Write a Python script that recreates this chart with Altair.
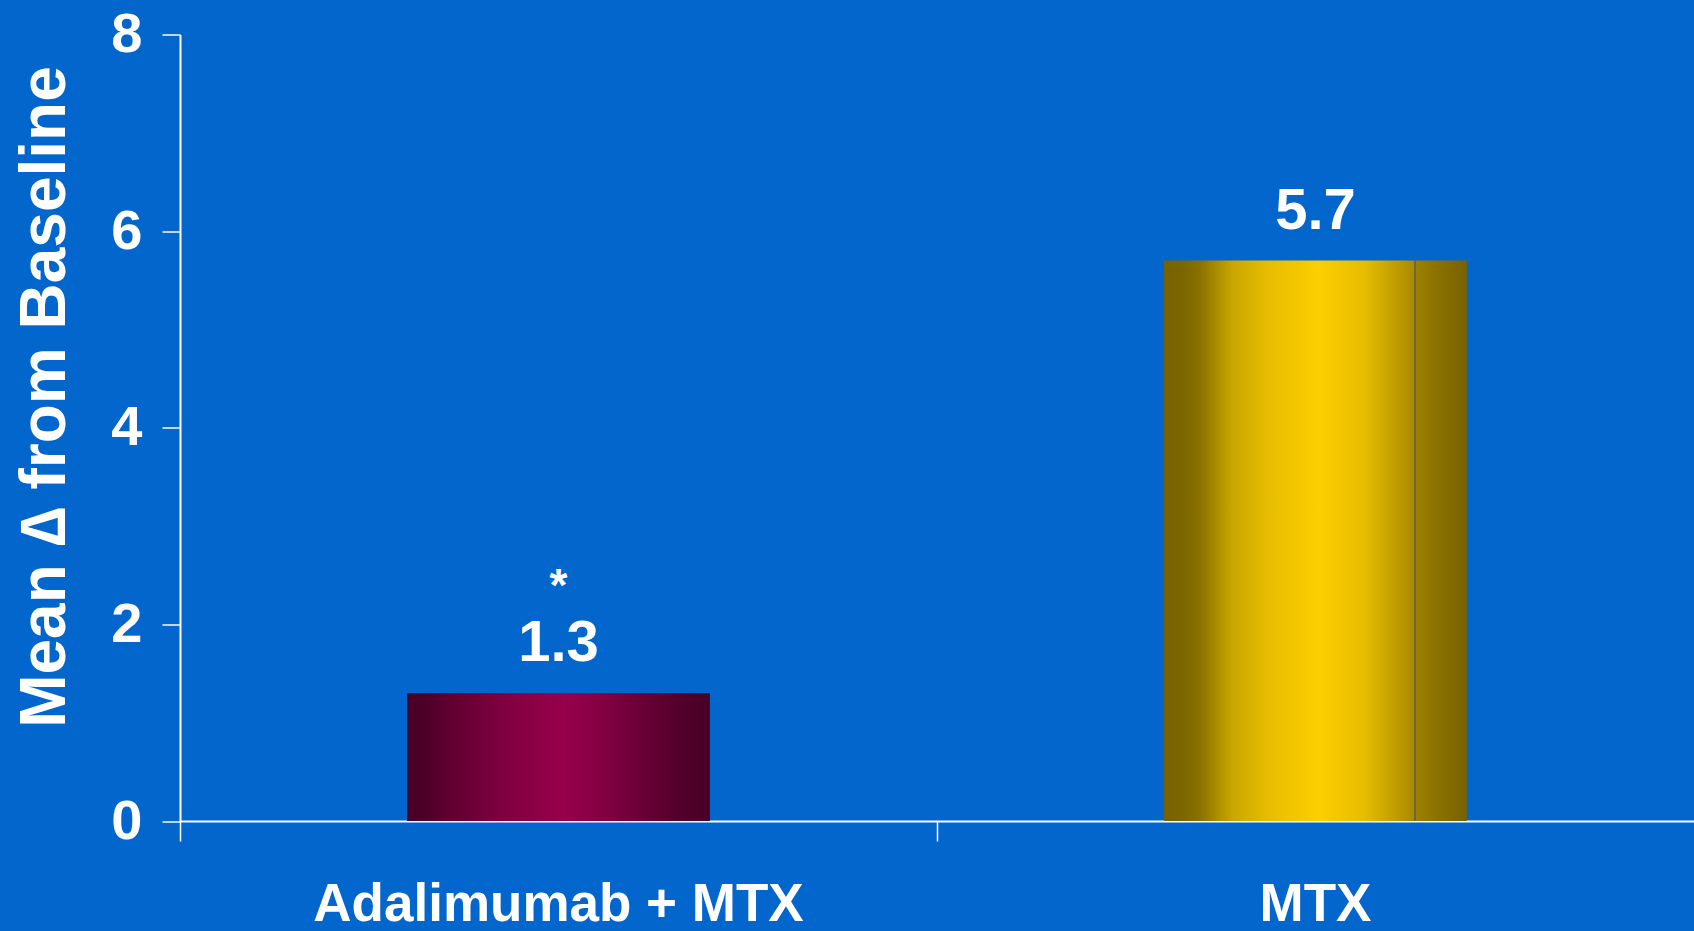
import altair as alt
import pandas as pd

categories = ["Adalimumab + MTX", "MTX"]
values = [1.3, 5.7]
value_labels = ["1.3", "5.7"]
notes = ["*", ""]
y_ticks = [0, 2, 4, 6, 8]

df = pd.DataFrame({"group": categories, "value": values, "label": value_labels, "note": notes})

BG = "#0366CC"
FONT = "Liberation Sans"

maroon = alt.LinearGradient(
    gradient="linear", x1=0, x2=1, y1=0, y2=0,
    stops=[
        alt.GradientStop(offset=0.0, color="#4a0026"),
        alt.GradientStop(offset=0.05, color="#4b0027"),
        alt.GradientStop(offset=0.13, color="#5e0030"),
        alt.GradientStop(offset=0.24, color="#720039"),
        alt.GradientStop(offset=0.35, color="#840042"),
        alt.GradientStop(offset=0.52, color="#97004c"),
        alt.GradientStop(offset=0.68, color="#7d0040"),
        alt.GradientStop(offset=0.79, color="#670035"),
        alt.GradientStop(offset=0.90, color="#54002c"),
        alt.GradientStop(offset=1.0, color="#480025"),
    ],
)

gold = alt.LinearGradient(
    gradient="linear", x1=0, x2=1, y1=0, y2=0,
    stops=[
        alt.GradientStop(offset=0.0, color="#786200"),
        alt.GradientStop(offset=0.06, color="#7c6600"),
        alt.GradientStop(offset=0.115, color="#897000"),
        alt.GradientStop(offset=0.225, color="#c9a600"),
        alt.GradientStop(offset=0.334, color="#e5bc00"),
        alt.GradientStop(offset=0.51, color="#fccf00"),
        alt.GradientStop(offset=0.663, color="#e6bd00"),
        alt.GradientStop(offset=0.773, color="#bd9a00"),
        alt.GradientStop(offset=0.826, color="#a88a00"),
        alt.GradientStop(offset=0.827, color="#6b6840"),
        alt.GradientStop(offset=0.831, color="#6b6840"),
        alt.GradientStop(offset=0.832, color="#9e8100"),
        alt.GradientStop(offset=0.905, color="#8a7100"),
        alt.GradientStop(offset=1.0, color="#786200"),
    ],
)

x_enc = alt.X(
    "group:N",
    sort=categories,
    scale=alt.Scale(domain=categories, paddingInner=0, paddingOuter=0),
    axis=alt.Axis(
        title=None,
        bandPosition=0,
        labelAngle=0,
        labelFont=FONT,
        labelFontWeight="bold",
        labelFontSize=53,
        labelColor="white",
        labelBaseline="alphabetic",
        labelPadding=79,
        labelLimit=1000,
        tickSize=20,
        tickColor="white",
        tickWidth=1.5,
        domainColor="white",
        domainWidth=2,
        grid=False,
    ),
)

y_enc = alt.Y(
    "value:Q",
    scale=alt.Scale(domain=[0, 8], nice=False),
    axis=alt.Axis(
        values=y_ticks,
        title="Mean \u2206 from Baseline",
        titleFont=FONT,
        titleFontWeight="bold",
        titleFontSize=64,
        titleColor="white",
        titleBaseline="alphabetic",
        titleAngle=-90,
        titleAlign="center",
        titleX=-116,
        titleY=362,
        labelFont=FONT,
        labelFontWeight="bold",
        labelFontSize=56,
        labelColor="white",
        labelPadding=20,
        tickSize=18,
        tickColor="white",
        tickWidth=1.5,
        domainColor="white",
        domainWidth=2,
        grid=False,
    ),
)

base = alt.Chart(df)

bar1 = base.transform_filter(alt.datum.group == categories[0]).mark_bar(
    color=maroon, width={"band": 0.4}
).encode(x=x_enc, y=y_enc)

bar2 = base.transform_filter(alt.datum.group == categories[1]).mark_bar(
    color=gold, width={"band": 0.4}
).encode(x=x_enc, y=y_enc)

labels = base.mark_text(
    font=FONT, fontWeight="bold", fontSize=58, color="white",
    baseline="alphabetic", align="center", dy=-32,
).encode(x=x_enc, y=y_enc, text="label:N")

stars = base.mark_text(
    font=FONT, fontWeight="bold", fontSize=46, color="white",
    baseline="alphabetic", align="center", dy=-92,
).encode(x=x_enc, y=y_enc, text="note:N")

chart = alt.layer(bar1, bar2, labels, stars).properties(
    width=1514,
    height=786.5,
    padding={"left": 180, "top": 34.5, "right": 0, "bottom": 110},
    autosize=alt.AutoSizeParams(type="none"),
).configure(background=BG).configure_view(strokeWidth=0)

chart.save("out.html", embed_options={"renderer": "svg", "actions": False})
